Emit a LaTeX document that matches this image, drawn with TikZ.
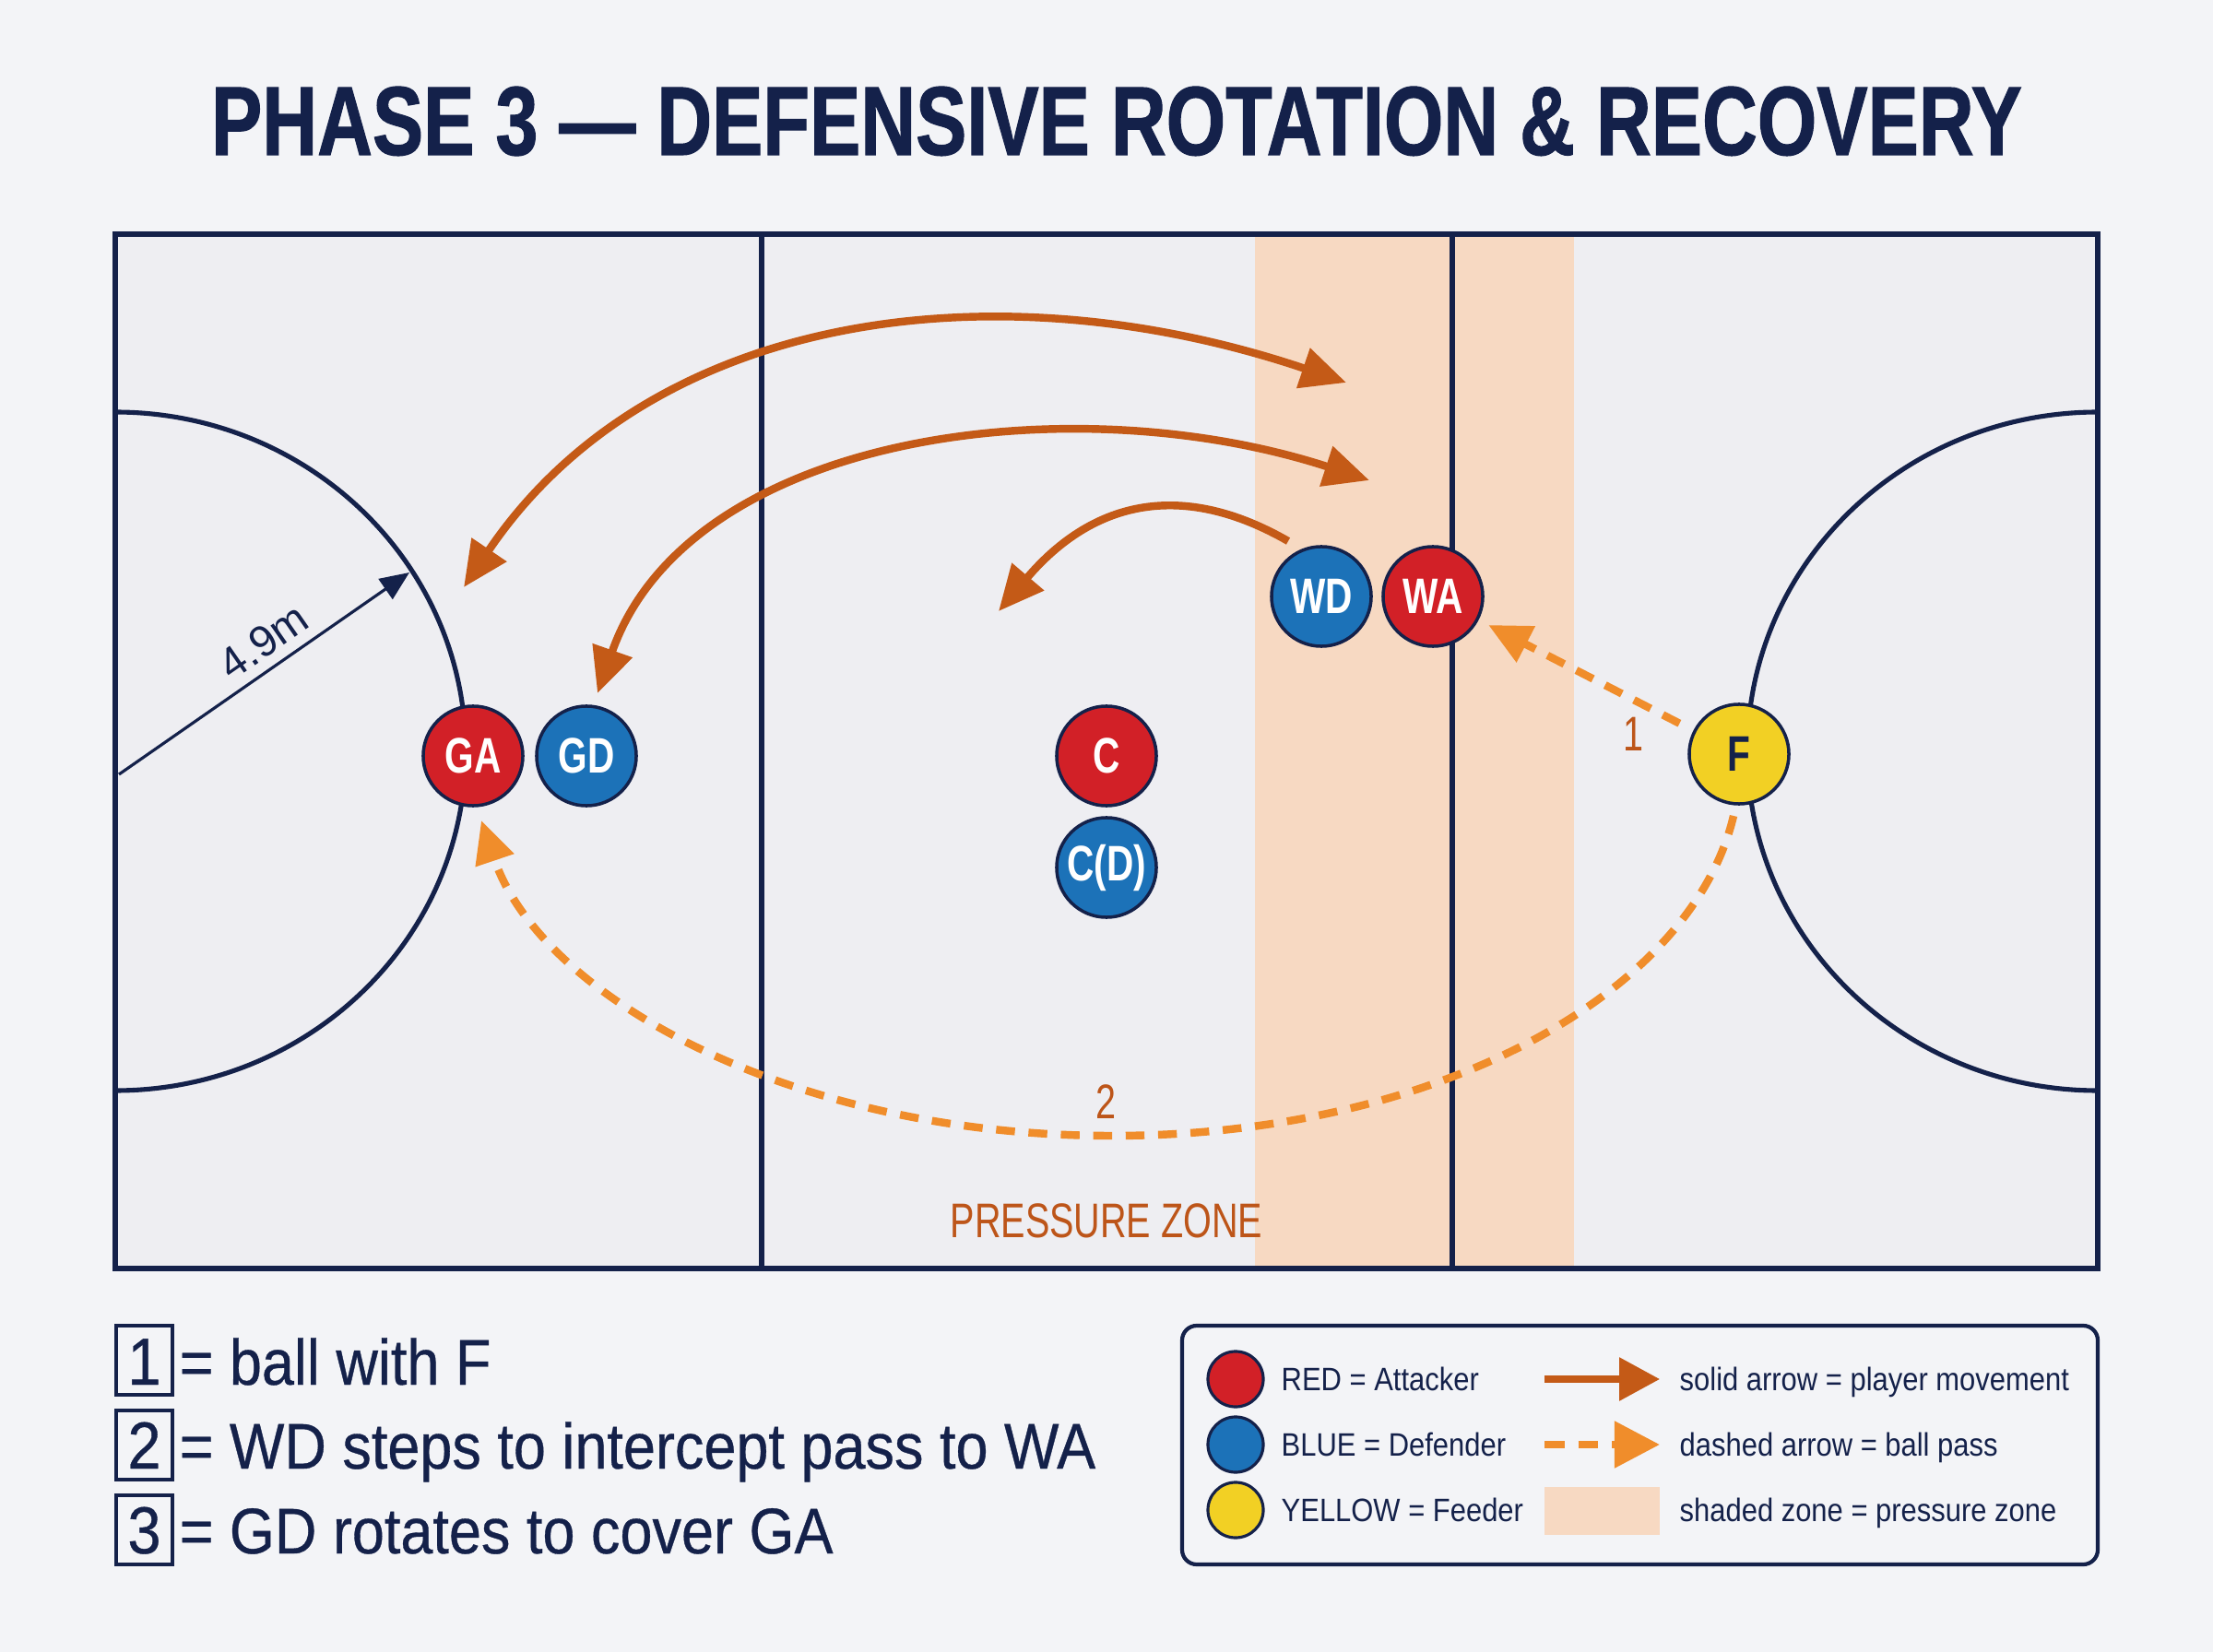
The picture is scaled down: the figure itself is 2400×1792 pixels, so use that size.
\documentclass[tikz,border=0pt]{standalone}
\usepackage{fontspec}
\setmainfont{Liberation Sans}
\newfontfamily\titlefont{Liberation Sans}[FakeStretch=0.78,FakeBold=1]
\newfontfamily\condfont{Liberation Sans}[FakeStretch=0.75]
\newfontfamily\legfont{Liberation Sans}[FakeStretch=0.9,FakeBold=0.5]
\newfontfamily\keyfont{Liberation Sans}[FakeStretch=0.88]
\usetikzlibrary{arrows.meta,calc}
\definecolor{navy}{HTML}{14214A}
\definecolor{pagebg}{HTML}{F3F4F7}
\definecolor{courtbg}{HTML}{EEEEF2}
\definecolor{zonecol}{HTML}{F7D9C2}
\definecolor{pred}{HTML}{D22027}
\definecolor{pblue}{HTML}{1C72B8}
\definecolor{pyellow}{HTML}{F2D024}
\definecolor{movecol}{HTML}{C45A17}
\definecolor{passcol}{HTML}{F08D2B}
\definecolor{labcol}{HTML}{BD5519}
\begin{document}
\begin{tikzpicture}[x=0.01cm,y=-0.01cm,
  courtline/.style={draw=navy,line width=1.45pt},
  courtborder/.style={draw=navy,line width=1.7pt},
  player/.style={circle,draw=navy,line width=1pt,minimum size=1.08cm,inner sep=0pt,text=white,
    font=\condfont\bfseries\fontsize{15.4}{18}\selectfont},
  redp/.style={player,fill=pred},
  bluep/.style={player,fill=pblue},
  yellowp/.style={player,fill=pyellow,text=navy},
  move/.style={draw=movecol,line width=2.4pt},
  pass/.style={draw=passcol,line width=2.4pt,dash pattern=on 5.8pt off 4.2pt},
  mtip/.tip={Triangle[length=14pt,width=12.5pt]},
  ptip/.tip={Triangle[length=13pt,width=12pt]},
  lab/.style={text=labcol,inner sep=0pt,anchor=base,font=\condfont\fontsize{15}{18}\selectfont},
  numbox/.style={draw=navy,line width=1.2pt,minimum width=0.61cm,minimum height=0.75cm,inner sep=0pt},
  legnum/.style={text=navy,inner sep=0pt,anchor=base,font=\legfont\fontsize{20.5}{24}\selectfont},
  legtxt/.style={text=navy,inner sep=0pt,anchor=base west,font=\legfont\fontsize{19.9}{24}\selectfont},
  keytxt/.style={text=navy,inner sep=0pt,anchor=base west,font=\keyfont\fontsize{10}{12}\selectfont},
  keydot/.style={circle,draw=navy,line width=0.9pt,minimum size=0.6cm,inner sep=0pt}
]
\fill[pagebg] (0,0) rectangle (2400,1792);
\useasboundingbox (0,0) rectangle (2400,1792);

% title
\node[text=navy,inner sep=0pt,anchor=base,font=\titlefont\bfseries\fontsize{30.2}{36}\selectfont] (title) at (1211,168) {PHASE 3 — DEFENSIVE ROTATION \& RECOVERY};

% court
\fill[courtbg] (125,254) rectangle (2275,1376);
\fill[zonecol] (1361,254) rectangle (1707,1376);
\begin{scope}
  \clip (125,254) rectangle (2275,1376);
  \draw[courtline] (125,815) ellipse [x radius=380, y radius=368];
  \draw[courtline] (2275,815) ellipse [x radius=380, y radius=368];
\end{scope}
\draw[courtline] (826,254) -- (826,1376);
\draw[courtline] (1575,254) -- (1575,1376);
\draw[courtborder] (125,254) rectangle (2275,1376);

% radius marker
\coordinate (r0) at (129,840);
\coordinate (r1) at (444,621);
\draw[navy,line width=0.9pt,-{Triangle[length=9pt,width=7.5pt]}] (r0) -- node[pos=0.55,sloped,above=3pt,inner sep=0pt,text=navy,font=\fontsize{13.5}{16}\selectfont] (rlab) {4.9m} (r1);

% players
\node[redp] (GA) at (513,820) {GA};
\node[bluep] (GD) at (636,820) {GD};
\node[redp] (C) at (1200,820) {C};
\node[bluep] (CD) at (1200,941) {C(D)};
\node[bluep] (WD) at (1433,647) {WD};
\node[redp] (WA) at (1554,647) {WA};
\node[yellowp] (F) at (1886,818) {F};

% movement arrows
\coordinate (m1a) at (503,637);
\coordinate (m1b) at (1460,415);
\draw[move,mtip-mtip] (m1a) .. controls (705,338) and (1080,287) .. (m1b);
\coordinate (m2a) at (648,752);
\coordinate (m2b) at (1485,521);
\draw[move,mtip-mtip] (m2a) .. controls (747,470) and (1162,416) .. (m2b);
\coordinate (m3a) at (1397,587);
\coordinate (m3b) at (1083,663);
\draw[move,-mtip] (m3a) .. controls (1284,522) and (1187,541) .. (m3b);

% passes
\draw[pass,-ptip,shorten <=4.8pt,shorten >=3.4pt] (F) -- (WA);
\coordinate (p2s) at (1880,885);
\coordinate (p2b) at (1206,1232);
\coordinate (p2e) at (522,890);
\draw[pass,-ptip] (p2s) .. controls (1834,1079) and (1556,1232) .. (p2b) .. controls (856,1232) and (586,1080) .. (p2e);

% labels
\node[lab] (l1) at (1771,815) {1};
\node[lab] (l2) at (1199,1213) {2};
\node[lab] (pz) at (1200,1342) {PRESSURE ZONE};

% left key
\node[numbox] (k1) at (156.5,1475.5) {};
\node[numbox] (k2) at (156.5,1567.5) {};
\node[numbox] (k3) at (156.5,1659.5) {};
\node[legnum] (d1) at (156.5,1502) {1};
\node[legnum] (d2) at (156.5,1593) {2};
\node[legnum] (d3) at (156.5,1685) {3};
\node[legtxt] (t1) at (194,1502) {= ball with F};
\node[legtxt] (t2) at (194,1593) {= WD steps to intercept pass to WA};
\node[legtxt] (t3) at (194,1685) {= GD rotates to cover GA};

% right key
\draw[navy,line width=1.2pt,rounded corners=4.5pt,fill=pagebg] (1282,1438) rectangle (2275,1697);
\node[keydot,fill=pred] (kr) at (1340,1496) {};
\node[keydot,fill=pblue] (kb) at (1340,1567) {};
\node[keydot,fill=pyellow] (ky) at (1340,1638) {};
\node[keytxt] (kt1) at (1389,1508) {RED = Attacker};
\node[keytxt] (kt2) at (1389,1579) {BLUE = Defender};
\node[keytxt] (kt3) at (1389,1650) {YELLOW = Feeder};
\coordinate (ka1) at (1675,1496);
\coordinate (kb1) at (1800,1496);
\draw[draw=movecol,line width=2pt,-{Triangle[length=12.5pt,width=13pt]}] (ka1) -- (kb1);
\coordinate (ka2) at (1675,1567);
\coordinate (kb2) at (1800,1567);
\draw[draw=passcol,line width=2.4pt,dash pattern=on 6.2pt off 4.2pt,-{Triangle[length=14pt,width=14pt]}] (ka2) -- (kb2);
\fill[zonecol] (1675,1613) rectangle (1800,1665);
\node[keytxt] (ks1) at (1821,1508) {solid arrow = player movement};
\node[keytxt] (ks2) at (1821,1579) {dashed arrow = ball pass};
\node[keytxt] (ks3) at (1821,1650) {shaded zone = pressure zone};
\end{tikzpicture}
\end{document}
